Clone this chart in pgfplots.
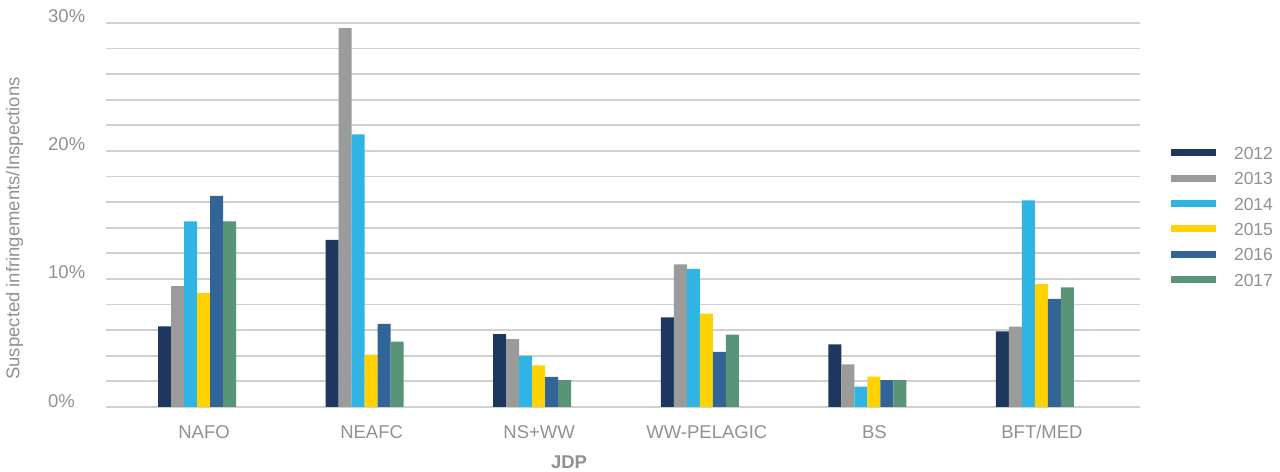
\documentclass[border=0pt]{standalone}
\usepackage{fontspec}
\setmainfont{Liberation Sans}
\usepackage{pgfplots}
\usepackage{pgfplotstable}
\pgfplotsset{compat=1.18}

\definecolor{c2012}{RGB}{30,55,95}
\definecolor{c2013}{RGB}{155,155,155}
\definecolor{c2014}{RGB}{48,180,228}
\definecolor{c2015}{RGB}{255,210,0}
\definecolor{c2016}{RGB}{50,100,152}
\definecolor{c2017}{RGB}{90,148,120}
\definecolor{gridgray}{RGB}{208,208,208}
\definecolor{textgray}{RGB}{145,145,145}

% suspected infringements / inspections, in %
\pgfplotstableread{
x  a     b     c     d     e     f
0  6.3   9.45  14.5  8.9   16.5  14.5
1  13.05 29.6  21.3  4.1   6.5   5.1
2  5.7   5.3   4.0   3.25  2.35  2.1
3  7.0   11.15 10.8  7.3   4.3   5.65
4  4.9   3.33  1.6   2.37  2.1   2.1
5  5.9   6.27  16.15 9.6   8.45  9.35
}\data

\pgfplotsset{
  myleg/.style={legend image code/.code={\fill (0bp,-2bp) rectangle (45bp,5bp);}},
}

\begin{document}
\begin{tikzpicture}
\useasboundingbox (-106bp,-65bp) rectangle (1174bp,407bp);
\begin{axis}[
  scale only axis,
  width=1034bp, height=384bp,
  ybar, bar width=13bp,
  xmin=-0.585, xmax=5.585,
  ymin=0, ymax=30,
  axis y line*=left,
  y axis line style={draw=none},
  axis x line*=bottom,
  x axis line style={draw=gridgray, line width=2.6bp},
  major tick length=0pt, minor tick length=0pt,
  xtick={0,...,5},
  xticklabels={NAFO,NEAFC,NS+WW,WW-PELAGIC,BS,BFT/MED},
  xticklabel style={inner sep=0pt, anchor=base, yshift=-31.5bp},
  ytick={0,10,20,30},
  minor ytick={2,4,6,8,12,14,16,18,22,24,26,28},
  ymajorgrids, yminorgrids,
  major grid style={draw=gridgray, line width=1.8bp},
  minor grid style={draw=gridgray, line width=1.8bp},
  yticklabel={\pgfmathprintnumber{\tick}\%},
  yticklabel style={inner sep=0pt, anchor=base west, xshift=-58bp},
  /pgf/number format/assume math mode=true,
  ticklabel style={font=\fontsize{18.5bp}{20bp}\selectfont, text=textgray},
  legend style={draw=none, fill=none, inner sep=0pt, outer sep=0pt,
    at={(axis description cs:1.030,0.676)}, anchor=north west,
    row sep=11.6bp, font=\fontsize{17.5bp}{20bp}\selectfont, text=textgray,
    nodes={inner sep=0pt},
    /tikz/every odd column/.style={column sep=18bp}},
  legend cell align=left,
]
\addplot[myleg, fill=c2012, draw=none, bar shift=-39.5bp] table[x=x, y=a] {\data};
\addplot[myleg, fill=c2013, draw=none, bar shift=-26.5bp] table[x=x, y=b] {\data};
\addplot[myleg, fill=c2014, draw=none, bar shift=-13.5bp] table[x=x, y=c] {\data};
\addplot[myleg, fill=c2015, draw=none, bar shift=-0.5bp] table[x=x, y=d] {\data};
\addplot[myleg, fill=c2016, draw=none, bar shift=12.5bp] table[x=x, y=e] {\data};
\addplot[myleg, fill=c2017, draw=none, bar shift=25.5bp] table[x=x, y=f] {\data};
\legend{2012,2013,2014,2015,2016,2017}
\end{axis}
\node[rotate=90, anchor=base, inner sep=0pt, text=textgray,
  font=\fontsize{18.5bp}{20bp}\selectfont] at (-86.5bp,178.5bp)
  {Suspected infringements/Inspections};
\node[anchor=base, inner sep=0pt, text=textgray,
  font=\fontsize{18.5bp}{20bp}\selectfont\bfseries] at (463bp,-61bp) {JDP};
\end{tikzpicture}
\end{document}
